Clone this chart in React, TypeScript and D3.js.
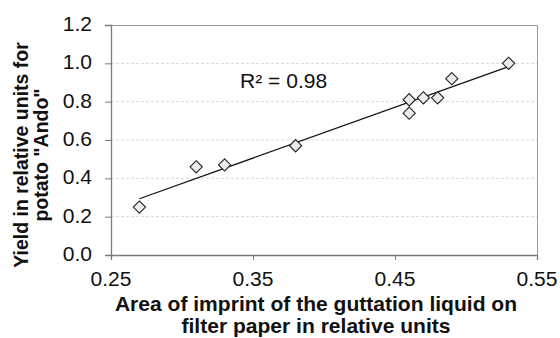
import { useRef, useEffect } from 'react';
import * as d3 from 'd3';

const xValues = [0.27, 0.31, 0.33, 0.38, 0.46, 0.46, 0.47, 0.48, 0.49, 0.53];
const yValues = [0.25, 0.46, 0.47, 0.57, 0.81, 0.74, 0.82, 0.82, 0.92, 1.0];
const xTicks = [0.25, 0.35, 0.45, 0.55];
const yTicks = [0, 0.2, 0.4, 0.6, 0.8, 1.0, 1.2];
const r2Label = 'R² = 0.98';
const xTitle = ['Area of imprint of the guttation liquid on', 'filter paper in relative units'];
const yTitle = ['Yield in relative units for', 'potato "Ando"'];

const FONT = '"Liberation Sans", Arial, sans-serif';
const FS = 19.5;
// the source picture is slightly stretched sideways
const SX = 1.08;

export default function App() {
  const svgRef = useRef<SVGSVGElement>(null);
  const width = 560;
  const height = 338;
  const margin = { top: 25, right: 23, bottom: 83, left: 111 };

  useEffect(() => {
    const svg = d3.select(svgRef.current);
    svg.selectAll('*').remove();

    const innerW = width - margin.left - margin.right;
    const innerH = height - margin.top - margin.bottom;

    const x = d3.scaleLinear().domain([0.25, 0.55]).range([0, innerW]);
    const y = d3.scaleLinear().domain([0, 1.2]).range([innerH, 0]);

    const label = (parent: any, tx: number, ty: number, txt: string, anchor: string, bold = false) =>
      parent.append('text')
        .attr('transform', `translate(${tx},${ty}) scale(${SX},1)`)
        .attr('text-anchor', anchor)
        .attr('font-family', FONT)
        .attr('font-size', FS)
        .attr('font-weight', bold ? 'bold' : 'normal')
        .attr('fill', '#111')
        .text(txt);

    const g = svg.append('g').attr('transform', `translate(${margin.left},${margin.top})`);

    // Gridlines
    g.selectAll('line.grid')
      .data(yTicks.filter(t => t > 0 && t < 1.2))
      .join('line')
      .attr('class', 'grid')
      .attr('x1', 0)
      .attr('x2', innerW)
      .attr('y1', d => y(d))
      .attr('y2', d => y(d))
      .attr('stroke', '#cfcfcf')
      .attr('stroke-width', 0.8)
      .attr('stroke-dasharray', '3,2');

    // Frame (top / right)
    g.append('line').attr('x1', 0).attr('x2', innerW).attr('y1', 0.5).attr('y2', 0.5)
      .attr('stroke', '#999').attr('stroke-width', 1);
    g.append('line').attr('x1', innerW + 0.5).attr('x2', innerW + 0.5).attr('y1', 0).attr('y2', innerH)
      .attr('stroke', '#999').attr('stroke-width', 1);

    // Axes (lines + ticks only, labels drawn below)
    const xAxis = g.append('g')
      .attr('transform', `translate(0,${innerH})`)
      .call(d3.axisBottom(x).tickValues(xTicks).tickSize(5).tickFormat(() => ''));
    const yAxis = g.append('g')
      .call(d3.axisLeft(y).tickValues(yTicks).tickSize(6).tickFormat(() => ''));
    [xAxis, yAxis].forEach(a => {
      a.select('.domain').attr('stroke', '#7a7a7a').attr('stroke-width', 1.3);
      a.selectAll('.tick line').attr('stroke', '#7a7a7a');
    });

    xTicks.forEach(t => label(g, x(t), innerH + 31, d3.format('.2f')(t), 'middle'));
    yTicks.forEach(t => label(g, -19, y(t) + 6, d3.format('.1f')(t), 'end'));

    // Trend line (least squares)
    const mx = d3.mean(xValues) as number;
    const my = d3.mean(yValues) as number;
    let sxy = 0;
    let sxx = 0;
    xValues.forEach((xv, i) => {
      sxy += (xv - mx) * (yValues[i] - my);
      sxx += (xv - mx) * (xv - mx);
    });
    const slope = sxy / sxx;
    const icpt = my - slope * mx;
    const x0 = d3.min(xValues) as number;
    const x1 = d3.max(xValues) as number;
    g.append('line')
      .attr('x1', x(x0))
      .attr('y1', y(icpt + slope * x0))
      .attr('x2', x(x1))
      .attr('y2', y(icpt + slope * x1))
      .attr('stroke', '#111')
      .attr('stroke-width', 1.2);

    // Points
    const diamond = d3.symbol().type(d3.symbolDiamond2).size(95);
    g.selectAll('path.pt')
      .data(xValues.map((xv, i) => ({ x: xv, y: yValues[i] })))
      .join('path')
      .attr('class', 'pt')
      .attr('d', diamond)
      .attr('transform', d => `translate(${x(d.x)},${y(d.y)})`)
      .attr('fill', '#ebebeb')
      .attr('stroke', '#222')
      .attr('stroke-width', 1.1);

    // R² label
    label(svg, 240, 88, r2Label, 'start');

    // X title
    xTitle.forEach((line, i) => label(svg, 316, 311 + i * 22, line, 'middle', true));

    // Y title
    yTitle.forEach((line, i) => {
      svg.append('text')
        .attr('transform', `translate(${28 + i * 20},155) scale(${SX},1) rotate(-90)`)
        .attr('text-anchor', 'middle')
        .attr('font-family', FONT)
        .attr('font-size', FS)
        .attr('font-weight', 'bold')
        .attr('fill', '#111')
        .text(line);
    });
  }, []);

  return (
    <svg
      ref={svgRef}
      width={width}
      height={height}
      style={{ position: 'absolute', left: 0, top: 0, background: '#fff' }}
    />
  );
}
